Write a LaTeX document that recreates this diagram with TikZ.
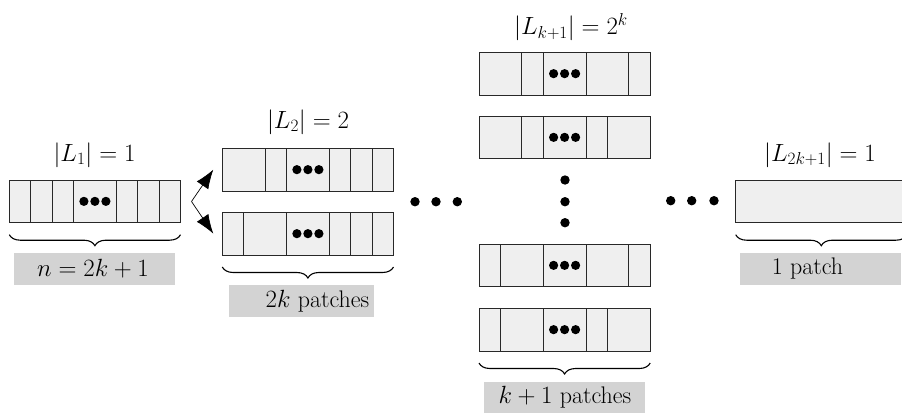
\documentclass[tikz,border=0pt]{standalone}
\usetikzlibrary{arrows.meta,decorations.pathreplacing,calc}
\definecolor{cellfill}{RGB}{239,239,239}
\definecolor{tagfill}{RGB}{211,211,211}
\definecolor{edge}{RGB}{40,40,40}
\newcommand{\unitw}{21.4}
% one row of patches: name, top-left x, top-left y, divider offsets (in units)
\newcommand{\patchrow}[4]{%
  \node[patchbox, anchor=north west] (#1) at (#2,#3) {};
  \foreach \d in {#4}{\draw[edge, line width=0.8pt] ($(#1.north west)+(\d*\unitw,0)$) -- ($(#1.south west)+(\d*\unitw,0)$);}
  \foreach \k in {-1,0,1}{\fill ($(#1.north west)!0.5!(#1.south west)+(4*\unitw+\k*11,0)$) circle (4.6);}
}
\begin{document}
\begin{tikzpicture}[x=1pt,y=-1pt,
  patchbox/.style={draw=edge, line width=0.8pt, fill=cellfill, minimum width=171.2pt, minimum height=42.7pt, inner sep=0pt, outer sep=0pt},
  bigdot/.style={circle, fill=black, minimum size=9.4pt, inner sep=0pt},
  lbl/.style={font=\fontsize{24}{28}\selectfont, inner sep=0pt},
  cbrace/.style={decorate, decoration={brace, mirror, amplitude=11pt}, line width=1.1pt},
  forkarrow/.style={-{Latex[length=19pt,width=14pt]}, line width=0.7pt}]
\useasboundingbox (0,0) rectangle (902,413);

% rows of patches
\patchrow{b1}{9.3}{180}{1,2,3,5,6,7}
\patchrow{ta}{222.3}{148.3}{2,3,5,6,7}
\patchrow{tb}{222.3}{212.3}{1,3,5,6,7}
\patchrow{ka}{479}{52.3}{2,3,5,7}
\patchrow{kb}{479}{116}{2,3,5,6}
\patchrow{kc}{479}{244}{1,3,5,7}
\patchrow{kd}{479}{308.3}{1,3,5,6}
\node[patchbox, anchor=north west] (r1) at (735.7,180) {};

% layer sizes
\node[lbl] (h1) at (94.5,155) {$|L_1| = 1$};
\node[lbl] (h2) at (308,122) {$|L_2| = 2$};
\node[lbl] (hk) at (571,27) {$|L_{k+1}| = 2^k$};
\node[lbl] (hr) at (820,155) {$|L_{2k+1}| = 1$};

% branching arrows
\coordinate (fork) at (191.5,201.5);
\draw[forkarrow] (fork) -- ($(ta.west)+(-9,0)$);
\draw[forkarrow] (fork) -- ($(tb.west)+(-9,0)$);

% ellipses
\node[bigdot] (e1) at (415,201.7) {};
\node[bigdot] (e2) at (436,201.7) {};
\node[bigdot] (e3) at (457.3,201.7) {};
\node[bigdot] (v1) at (565,180) {};
\node[bigdot] (v2) at (565,201.7) {};
\node[bigdot] (v3) at (565,222.7) {};
\node[bigdot] (f1) at (670.7,200.7) {};
\node[bigdot] (f2) at (691.7,200.7) {};
\node[bigdot] (f3) at (714,200.7) {};

% braces
\draw[cbrace] ($(b1.south west)+(0,12)$) -- ($(b1.south east)+(0,12)$);
\draw[cbrace] ($(tb.south west)+(0,12)$) -- ($(tb.south east)+(0,12)$);
\draw[cbrace] ($(kd.south west)+(0,12)$) -- ($(kd.south east)+(0,12)$);
\draw[cbrace] ($(r1.south west)+(0,12)$) -- ($(r1.south east)+(0,12)$);

% counts under the braces
\fill[tagfill] (14,252.7) rectangle (174.7,285.3);
\fill[tagfill] (228.7,285) rectangle (374,316.7);
\fill[tagfill] (484,382) rectangle (645.3,412.7);
\fill[tagfill] (740,252.7) rectangle (901,285.3);
\node[lbl] (c1) at (93,269) {$n = 2k+1$};
\node[lbl] (c2) at (317.5,301) {$2k$ patches};
\node[lbl] (ck) at (565,397) {$k+1$ patches};
\node[lbl] (cr) at (807.5,269) {1 patch};
\end{tikzpicture}
\end{document}
